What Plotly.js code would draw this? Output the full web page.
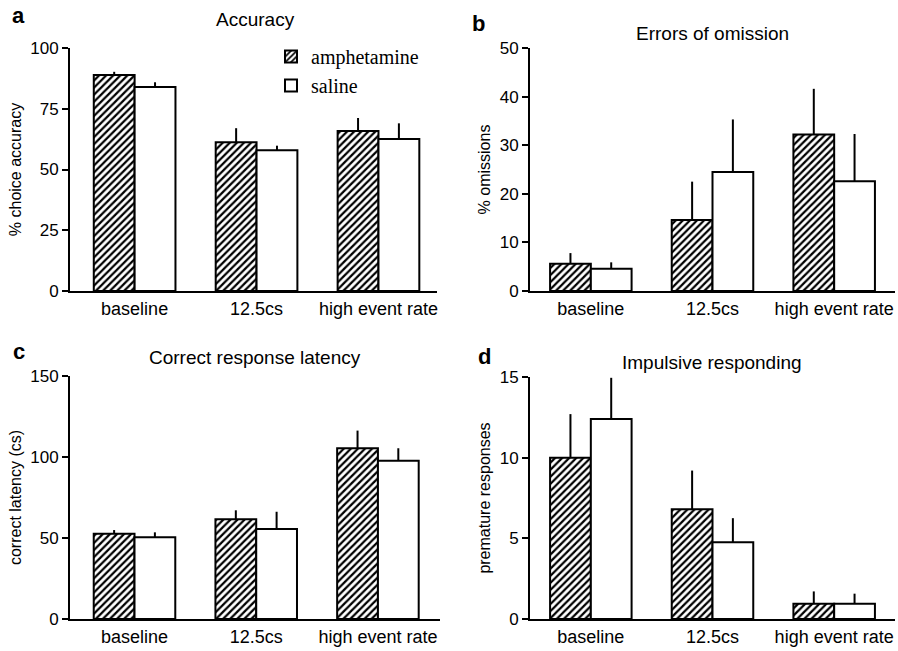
<!DOCTYPE html>
<html>
<head>
<meta charset="utf-8">
<script src="https://cdn.plot.ly/plotly-3.0.1.min.js"></script>
<style>html,body{margin:0;padding:0;background:#fff}#chart{width:898px;height:651px}</style>
</head>
<body>
<div id="chart"></div>
<script>
const categories = ['baseline', '12.5cs', 'high event rate'];

const accuracyAmph = [88.9, 61.2, 65.8];
const accuracyAmphErr = [1.3, 5.8, 5.4];
const accuracySal = [84.0, 57.9, 62.6];
const accuracySalErr = [1.9, 1.9, 6.4];

const omissionAmph = [5.6, 14.6, 32.2];
const omissionAmphErr = [2.2, 7.9, 9.4];
const omissionSal = [4.6, 24.5, 22.6];
const omissionSalErr = [1.3, 10.8, 9.7];

const latencyAmph = [52.7, 61.5, 105.4];
const latencyAmphErr = [2.2, 5.6, 10.9];
const latencySal = [50.4, 55.6, 97.7];
const latencySalErr = [3.1, 10.6, 7.7];

const prematureAmph = [10.0, 6.8, 0.95];
const prematureAmphErr = [2.7, 2.4, 0.76];
const prematureSal = [12.4, 4.75, 0.95];
const prematureSalErr = [2.55, 1.5, 0.62];

const zeros = [0, 0, 0];
const W = 898, H = 651;
const sans = 'Liberation Sans, Arial, sans-serif';

function amphTrace(y, err, xa, ya, show) {
  return {
    type: 'bar', name: 'amphetamine', x: categories, y: y, xaxis: xa, yaxis: ya,
    showlegend: show, legendgroup: 'amph',
    marker: {color: 'white', line: {color: 'black', width: 2},
      pattern: {shape: '/', fgcolor: 'black', bgcolor: 'white', size: 5, solidity: 0.45}},
    error_y: {type: 'data', symmetric: false, array: err, arrayminus: zeros,
      color: 'black', thickness: 2, width: 0}
  };
}
function salTrace(y, err, xa, ya, show) {
  return {
    type: 'bar', name: 'saline', x: categories, y: y, xaxis: xa, yaxis: ya,
    showlegend: show, legendgroup: 'sal',
    marker: {color: 'white', line: {color: 'black', width: 2}},
    error_y: {type: 'data', symmetric: false, array: err, arrayminus: zeros,
      color: 'black', thickness: 2, width: 0}
  };
}

const data = [
  amphTrace(accuracyAmph, accuracyAmphErr, 'x', 'y', true),
  salTrace(accuracySal, accuracySalErr, 'x', 'y', true),
  amphTrace(omissionAmph, omissionAmphErr, 'x2', 'y2', false),
  salTrace(omissionSal, omissionSalErr, 'x2', 'y2', false),
  amphTrace(latencyAmph, latencyAmphErr, 'x3', 'y3', false),
  salTrace(latencySal, latencySalErr, 'x3', 'y3', false),
  amphTrace(prematureAmph, prematureAmphErr, 'x4', 'y4', false),
  salTrace(prematureSal, prematureSalErr, 'x4', 'y4', false)
];

function px(x) { return x / W; }
function py(y) { return 1 - y / H; }

function xax(d0, d1, r, anchor) {
  return {domain: [px(d0), px(d1)], range: r, anchor: anchor, showline: true, linecolor: 'black',
    linewidth: 2, ticks: '', showgrid: false, zeroline: false, fixedrange: true,
    tickfont: {family: sans, size: 18, color: 'black'}};
}
function yax(d0, d1, r, dt, title, anchor) {
  return {domain: [py(d1), py(d0)], range: r, dtick: dt, anchor: anchor, showline: true,
    linecolor: 'black', linewidth: 2, ticks: 'outside', ticklen: 6, tickwidth: 2, tickcolor: 'black',
    showgrid: false, zeroline: false, fixedrange: true,
    tickfont: {family: sans, size: 17, color: 'black'},
    title: {text: title, font: {family: sans, size: 16, color: 'black'}, standoff: 5}};
}

function ann(text, x, y, size, bold) {
  return {text: bold ? '<b>' + text + '</b>' : text, xref: 'paper', yref: 'paper',
    x: px(x), y: py(y), xanchor: 'center', yanchor: 'middle', showarrow: false,
    font: {family: sans, size: size, color: 'black'}};
}

const layout = {
  width: W, height: H,
  margin: {l: 0, r: 0, t: 0, b: 0},
  paper_bgcolor: 'white', plot_bgcolor: 'white',
  barmode: 'group', bargap: 0.33, bargroupgap: 0,
  xaxis: xax(70, 437, [-0.53, 2.48], 'y'),
  yaxis: yax(48, 291, [0, 100], 25, '% choice accuracy', 'x'),
  xaxis2: xax(530, 895, [-0.5, 2.5], 'y2'),
  yaxis2: yax(48, 291, [0, 50], 10, '% omissions', 'x2'),
  xaxis3: xax(70, 440, [-0.53, 2.51], 'y3'),
  yaxis3: yax(376, 619, [0, 150], 50, 'correct latency (cs)', 'x3'),
  xaxis4: xax(530, 895, [-0.5, 2.5], 'y4'),
  yaxis4: yax(377, 619, [0, 15], 5, 'premature responses', 'x4'),
  legend: {x: px(271), y: py(37), xanchor: 'left', yanchor: 'top', bgcolor: 'rgba(0,0,0,0)',
    font: {family: 'Liberation Serif, Times New Roman, serif', size: 20, color: 'black'},
    itemwidth: 30, tracegroupgap: 0},
  annotations: [
    ann('Accuracy', 255, 19, 19, false),
    ann('Errors of omission', 712, 33, 19, false),
    ann('Correct response latency', 255, 357, 19, false),
    ann('Impulsive responding', 712, 362, 19, false),
    ann('a', 18, 15, 22, true),
    ann('b', 478, 23, 22, true),
    ann('c', 19, 351, 22, true),
    ann('d', 484, 356, 22, true)
  ]
};

Plotly.newPlot('chart', data, layout, {displayModeBar: false, staticPlot: true});
</script>
</body>
</html>
